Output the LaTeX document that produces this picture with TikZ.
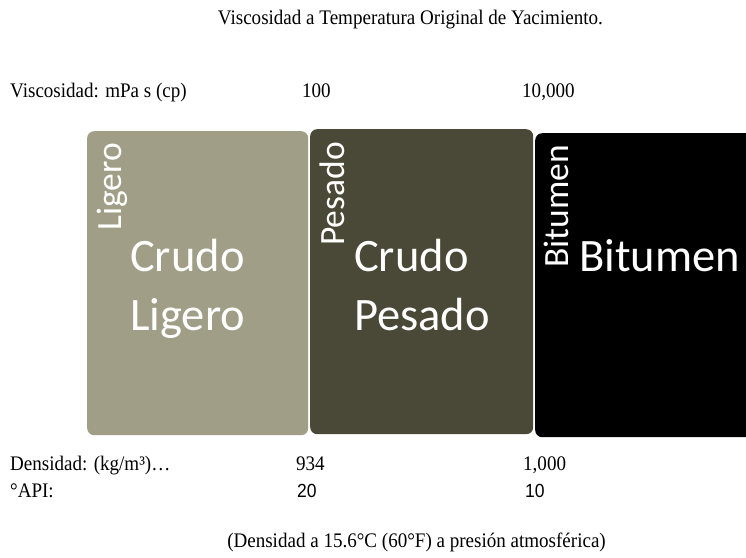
\documentclass[tikz,border=0pt]{standalone}
\usepackage{fontspec}
\setmainfont{Liberation Serif}
\newfontfamily\calfont{Carlito}
\newfontfamily\arialfont{Liberation Sans}
\newcommand\sxw[1]{\scalebox{0.92}[1]{#1}}
\definecolor{lightcrude}{HTML}{A09E87}
\definecolor{heavycrude}{HTML}{4A4836}
\begin{document}
\begin{tikzpicture}[x=1pt,y=-1pt,
  lbl/.style={font=\fontsize{20.7}{24}\selectfont, inner sep=0pt, anchor=base west},
  lblsans/.style={font=\arialfont\fontsize{19}{22}\selectfont, inner sep=0pt, anchor=base west},
  crudebox/.style={rounded corners=7pt, inner sep=0pt, anchor=north west, draw=none},
  bigtxt/.style={font=\calfont\fontsize{46.5}{59}\selectfont, text=white, inner sep=0pt, anchor=base west},
  sidetxt/.style={font=\calfont\fontsize{35.5}{40}\selectfont, text=white, inner sep=0pt, rotate=90, anchor=base east}]
\useasboundingbox (0,0) rectangle (746,557);
\clip (0,0) rectangle (746,557);
\fill[white] (0,0) rectangle (746,557);
% boxes
\node[crudebox, fill=lightcrude, minimum width=221pt, minimum height=304pt] (b1) at (87,131) {};
\node[crudebox, fill=heavycrude, minimum width=223pt, minimum height=305pt] (b2) at (310,129) {};
\node[crudebox, fill=black, minimum width=240pt, minimum height=304pt] (b3) at (535,133) {};
% side labels
\node[sidetxt] (s1) at (121,143) {Ligero};
\node[sidetxt] (s2) at (344,142) {Pesado};
\node[sidetxt] (s3) at (568,145) {Bitumen};
% big labels
\node[bigtxt] (c1a) at (130,271) {Crudo};
\node[bigtxt] (c1b) at (130,330) {Ligero};
\node[bigtxt] (c2a) at (354,271) {Crudo};
\node[bigtxt] (c2b) at (354,330) {Pesado};
\node[bigtxt] (c3a) at (579,271) {Bitumen};
% top labels
\node[lbl, anchor=base east] (title) at (603,24) {\sxw{Viscosidad a Temperatura Original de Yacimiento.}};
\node[lbl] (visc) at (10,97) {\sxw{Viscosidad: mPa s (cp)}};
\node[lbl] (v100) at (302,97) {\sxw{100}};
\node[lbl] (v10k) at (522,97) {\sxw{10,000}};
% bottom labels
\node[lbl] (dens) at (10,470) {\sxw{Densidad: (kg/m³)…}};
\node[lbl] (d934) at (296,470) {\sxw{934}};
\node[lbl] (d1000) at (523,470) {\sxw{1,000}};
\node[lbl] (api) at (10,497) {\sxw{°API:}};
\node[lblsans] (a20) at (297,497) {\sxw{20}};
\node[lblsans] (a10) at (525,497) {\sxw{10}};
\node[lbl, anchor=base east] (note) at (606,547) {\sxw{(Densidad a 15.6°C (60°F) a presión atmosférica)}};
\end{tikzpicture}
\end{document}
